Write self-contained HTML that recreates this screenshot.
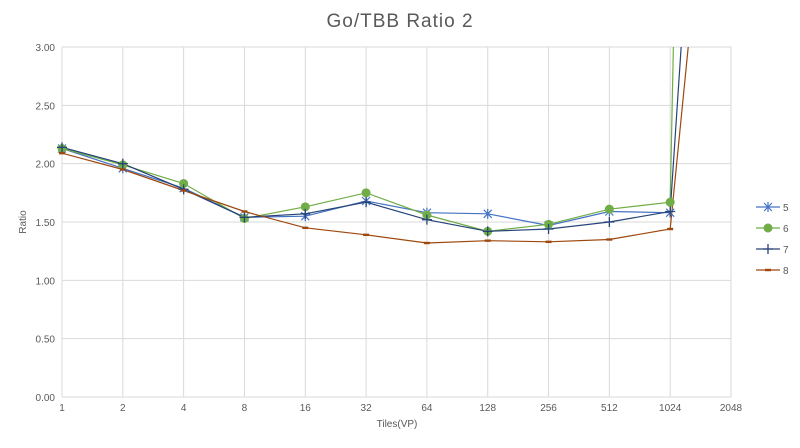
<!DOCTYPE html>
<html><head><meta charset="utf-8"><style>
body{margin:0;background:#fff;font-family:"Liberation Sans",sans-serif}
svg text{font-family:"Liberation Sans",sans-serif}
</style></head><body>
<svg id="c" width="800" height="443">
<text x="400" y="27" text-anchor="middle" font-size="19" fill="#595959" letter-spacing="1">Go/TBB Ratio 2</text>
<defs><clipPath id="clip"><rect x="62" y="47" width="669" height="350"/></clipPath></defs>
<g id="grid"></g><g id="series" clip-path="url(#clip)"></g><g id="marks"></g><g id="legend"></g>
<text x="397" y="427" text-anchor="middle" font-size="10" fill="#595959">Tiles(VP)</text>
<text x="26" y="222" text-anchor="middle" font-size="10" fill="#595959" transform="rotate(-90 26 222)">Ratio</text>
</svg>
<script>
const categories=["1","2","4","8","16","32","64","128","256","512","1024","2048"];
const yTicks=[0,0.5,1,1.5,2,2.5,3];
const seriesNames=["5","6","7","8"];
const s5=[2.13,1.96,1.79,1.54,1.55,1.68,1.58,1.57,1.47,1.59,1.58];
const s6=[2.13,1.99,1.83,1.53,1.63,1.75,1.56,1.42,1.48,1.61,1.67,27];
const s7=[2.14,2.00,1.78,1.54,1.57,1.67,1.52,1.42,1.44,1.50,1.59,9.4];
const s8=[2.09,1.95,1.77,1.59,1.45,1.39,1.32,1.34,1.33,1.35,1.44,6.7];
const NS="http://www.w3.org/2000/svg";
const X0=62,X1=731,Y0=397,Y1=47;
const xs=i=>X0+i*(X1-X0)/(categories.length-1);
const ys=v=>Y0-(v/3)*(Y0-Y1);
function mk(t,a,p){const e=document.createElementNS(NS,t);for(const k in a)e.setAttribute(k,a[k]);p.appendChild(e);return e;}
const grid=document.getElementById('grid');
yTicks.forEach(v=>{
 const l=mk('line',{x1:X0,x2:X1,y1:ys(v),y2:ys(v),stroke:'#d9d9d9'},grid);
 
 
 const t=mk('text',{x:55,y:ys(v)+4,'text-anchor':'end','font-size':10,fill:'#595959'},grid);t.textContent=v.toFixed(2);
 
 
});
categories.forEach((c,i)=>{
 const l=mk('line',{x1:xs(i),x2:xs(i),y1:Y1,y2:Y0,stroke:'#d9d9d9'},grid);
 
 
 const t=mk('text',{x:xs(i),y:411,'text-anchor':'middle','font-size':10,fill:'#595959'},grid);t.textContent=c;
 
 
});
const colors=["#4472c4","#70ad47","#264478","#9e480e"];
const data=[s5,s6,s7,s8];
const sg=document.getElementById('series'),mg=document.getElementById('marks'),lg=document.getElementById('legend');
function marker(k,x,y,p){
 const c=colors[k];let g=mk('g',{},p);
 if(k==0){mk('path',{d:`M${x-4} ${y-4}L${x+4} ${y+4}M${x-4} ${y+4}L${x+4} ${y-4}M${x} ${y-5}L${x} ${y+5}`,stroke:c,'stroke-width':1.2,fill:'none'},g);}
 else if(k==1){mk('circle',{cx:x,cy:y,r:4.5,fill:c},g);}
 else if(k==2){mk('path',{d:`M${x-5} ${y}L${x+5} ${y}M${x} ${y-5}L${x} ${y+5}`,stroke:c,'stroke-width':1.3},g);}
 else {mk('rect',{x:x-3,y:y-1.2,width:6,height:2.4,fill:c},g);}
 return g;
}
data.forEach((arr,k)=>{
 const pts=arr.map((v,i)=>xs(i)+','+ys(v)).join(' ');
 const pl=mk('polyline',{points:pts,fill:'none',stroke:colors[k],'stroke-width':1.2},sg);
 
 
 arr.forEach((v,i)=>{ if(ys(v)>=Y1){const m=marker(k,xs(i),ys(v),mg);
  
  }});
 const ly=207+k*21;
 const le=mk('g',{},lg);
 
 
 mk('line',{x1:756,x2:780,y1:ly,y2:ly,stroke:colors[k],'stroke-width':1.2},le);
 marker(k,768,ly,le);
 const t=mk('text',{x:783,y:ly+4,'font-size':10,fill:'#595959'},le);t.textContent=seriesNames[k];
});
</script>
</body></html>
